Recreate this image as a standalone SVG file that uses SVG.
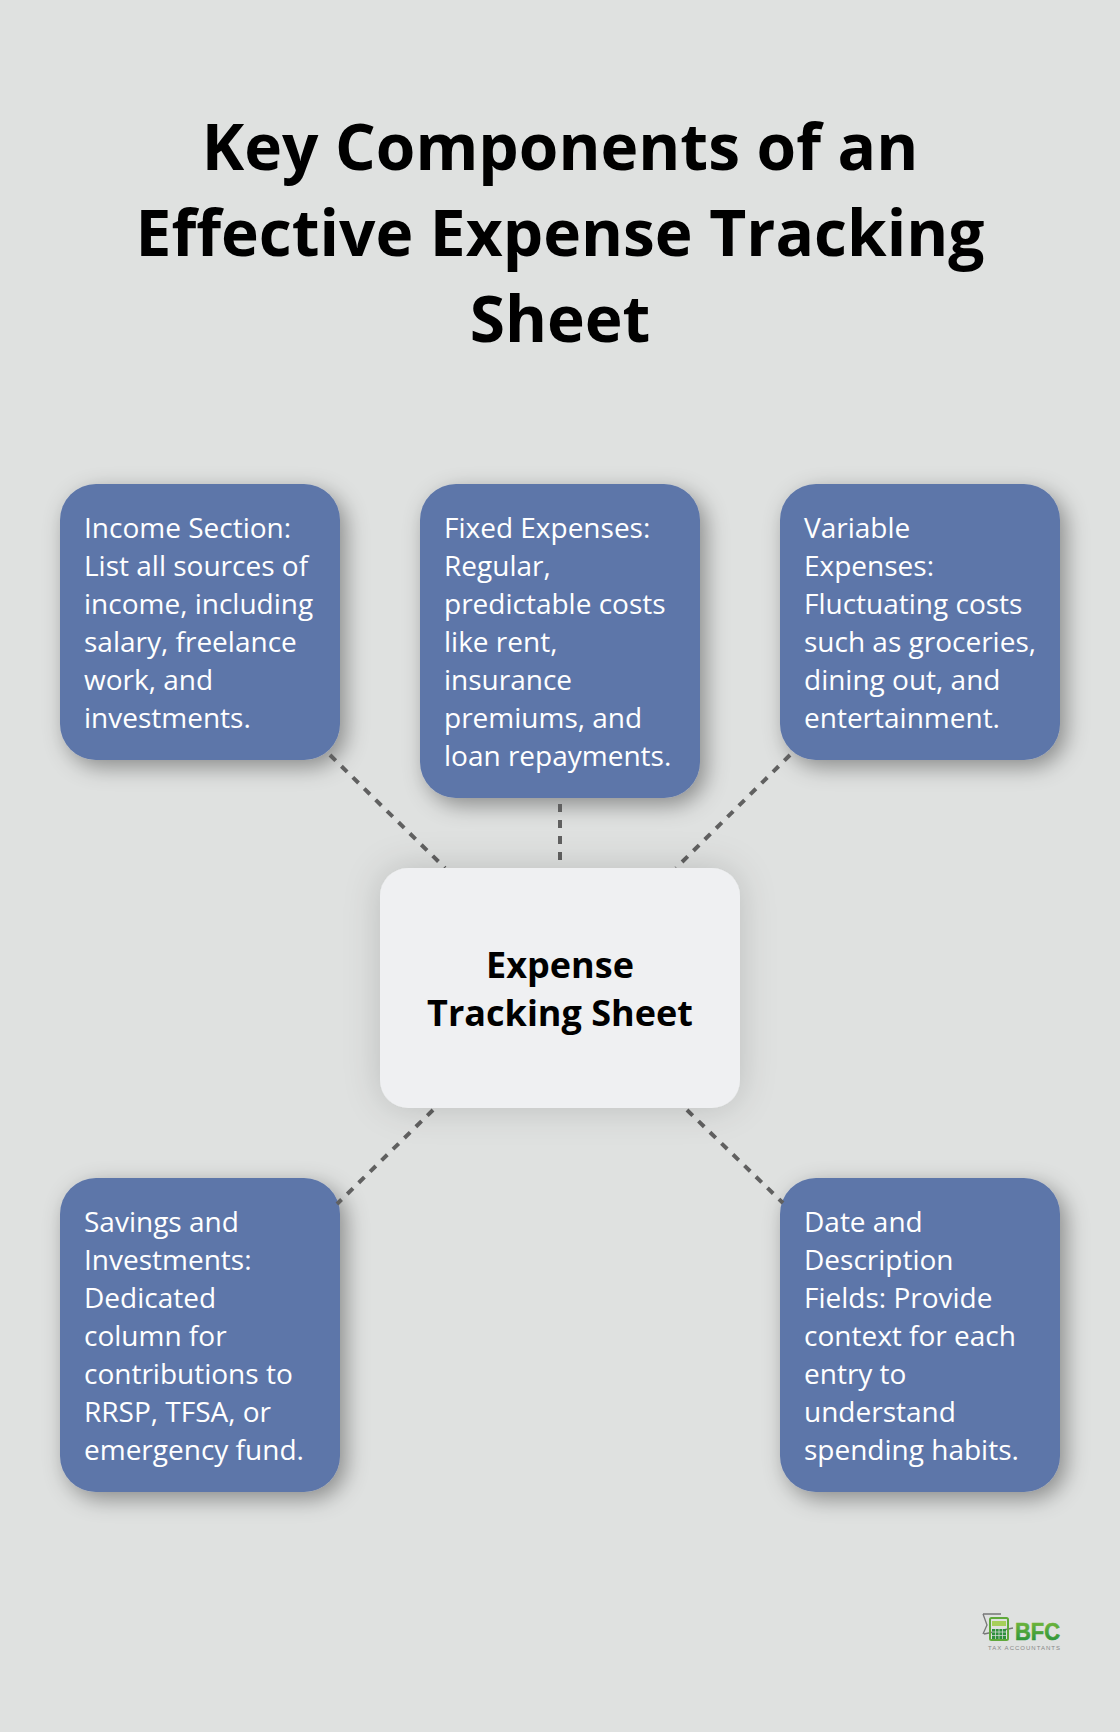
<svg xmlns="http://www.w3.org/2000/svg" width="1120" height="1732" viewBox="0 0 1120 1732">
<defs>
<filter id="sh" x="-30%" y="-30%" width="170%" height="170%"><feDropShadow dx="6" dy="7" stdDeviation="11" flood-color="#000" flood-opacity="0.38"/></filter>
<filter id="shc" x="-30%" y="-30%" width="160%" height="160%"><feDropShadow dx="0" dy="0" stdDeviation="18" flood-color="#000" flood-opacity="0.16"/></filter>
<linearGradient id="g" x1="0" y1="0" x2="0" y2="1"><stop offset="0" stop-color="#7dbb3c"/><stop offset="1" stop-color="#1f8f3a"/></linearGradient>
</defs>
<style>
text{font-family:"Open Sans","Noto Sans","Liberation Sans",sans-serif}
.title{font-size:64px;font-weight:700;fill:#000;text-anchor:middle}
.b{fill:#5d76a9;filter:url(#sh)}
.t{font-size:28px;fill:#fff}
.c{font-size:36px;font-weight:700;fill:#000;text-anchor:middle}
.cn{stroke:#606060;stroke-width:4;stroke-dasharray:8 8;fill:none}
</style>
<rect width="1120" height="1732" fill="#dfe1e0"/>
<g id="title"><text class="title" x="560" y="170">Key Components of an</text><text class="title" x="560" y="256">Effective Expense Tracking</text><text class="title" x="560" y="342">Sheet</text></g>
<g id="n1"><rect class="b" x="60" y="484" width="280" height="276" rx="36"/>
<text class="t"><tspan x="84" y="538">Income Section:</tspan><tspan x="84" y="576">List all sources of</tspan><tspan x="84" y="614">income, including</tspan><tspan x="84" y="652">salary, freelance</tspan><tspan x="84" y="690">work, and</tspan><tspan x="84" y="728">investments.</tspan></text></g>
<g id="n2"><rect class="b" x="420" y="484" width="280" height="314" rx="36"/>
<text class="t"><tspan x="444" y="538">Fixed Expenses:</tspan><tspan x="444" y="576">Regular,</tspan><tspan x="444" y="614">predictable costs</tspan><tspan x="444" y="652">like rent,</tspan><tspan x="444" y="690">insurance</tspan><tspan x="444" y="728">premiums, and</tspan><tspan x="444" y="766">loan repayments.</tspan></text></g>
<g id="n3"><rect class="b" x="780" y="484" width="280" height="276" rx="36"/>
<text class="t"><tspan x="804" y="538">Variable</tspan><tspan x="804" y="576">Expenses:</tspan><tspan x="804" y="614">Fluctuating costs</tspan><tspan x="804" y="652">such as groceries,</tspan><tspan x="804" y="690">dining out, and</tspan><tspan x="804" y="728">entertainment.</tspan></text></g>
<g id="n4"><rect class="b" x="60" y="1178" width="280" height="314" rx="36"/>
<text class="t"><tspan x="84" y="1232">Savings and</tspan><tspan x="84" y="1270">Investments:</tspan><tspan x="84" y="1308">Dedicated</tspan><tspan x="84" y="1346">column for</tspan><tspan x="84" y="1384">contributions to</tspan><tspan x="84" y="1422">RRSP, TFSA, or</tspan><tspan x="84" y="1460">emergency fund.</tspan></text></g>
<g id="n5"><rect class="b" x="780" y="1178" width="280" height="314" rx="36"/>
<text class="t"><tspan x="804" y="1232">Date and</tspan><tspan x="804" y="1270">Description</tspan><tspan x="804" y="1308">Fields: Provide</tspan><tspan x="804" y="1346">context for each</tspan><tspan x="804" y="1384">entry to</tspan><tspan x="804" y="1422">understand</tspan><tspan x="804" y="1460">spending habits.</tspan></text></g>
<g id="connectors">
<line class="cn" x1="330" y1="755" x2="445" y2="868"/>
<line class="cn" x1="560" y1="804" x2="560" y2="868"/>
<line class="cn" x1="790" y1="755" x2="676" y2="868"/>
<line class="cn" x1="433" y1="1110" x2="337" y2="1204"/>
<line class="cn" x1="687" y1="1110" x2="783" y2="1203"/>
</g>
<g id="center"><rect x="380" y="868" width="360" height="240" rx="28" fill="#eff0f2" filter="url(#shc)"/>
<text class="c"><tspan x="560" y="978">Expense</tspan><tspan x="560" y="1026">Tracking Sheet</tspan></text></g>
<g id="logo">
<path d="M983 1614h18M983 1614l4 11-4 9M984 1634l29-6" fill="none" stroke="#777" stroke-width="1.300"/>
<rect x="990" y="1618" width="18" height="22" rx="1.500" fill="none" stroke="#5fa93a" stroke-width="2"/>
<rect x="992" y="1621" width="14" height="5" fill="#a6cf5a"/>
<path d="M992 1629h14v10h-14z" fill="#2f8f3c"/>
<path d="M995.500 1629v10M999 1629v10M1002.500 1629v10M992 1632h14M992 1635.500h14" stroke="#dfe1e0" stroke-width=".7"/>
<text x="1015" y="1640" font-size="24" font-weight="700" fill="url(#g)" stroke="url(#g)" stroke-width=".6" style="font-family:'Liberation Sans',sans-serif" textLength="45" lengthAdjust="spacingAndGlyphs">BFC</text>
<text x="988" y="1649.500" font-size="6" fill="#888" style="font-family:'Liberation Sans',sans-serif" textLength="72">TAX ACCOUNTANTS</text>
</g>
</svg>
